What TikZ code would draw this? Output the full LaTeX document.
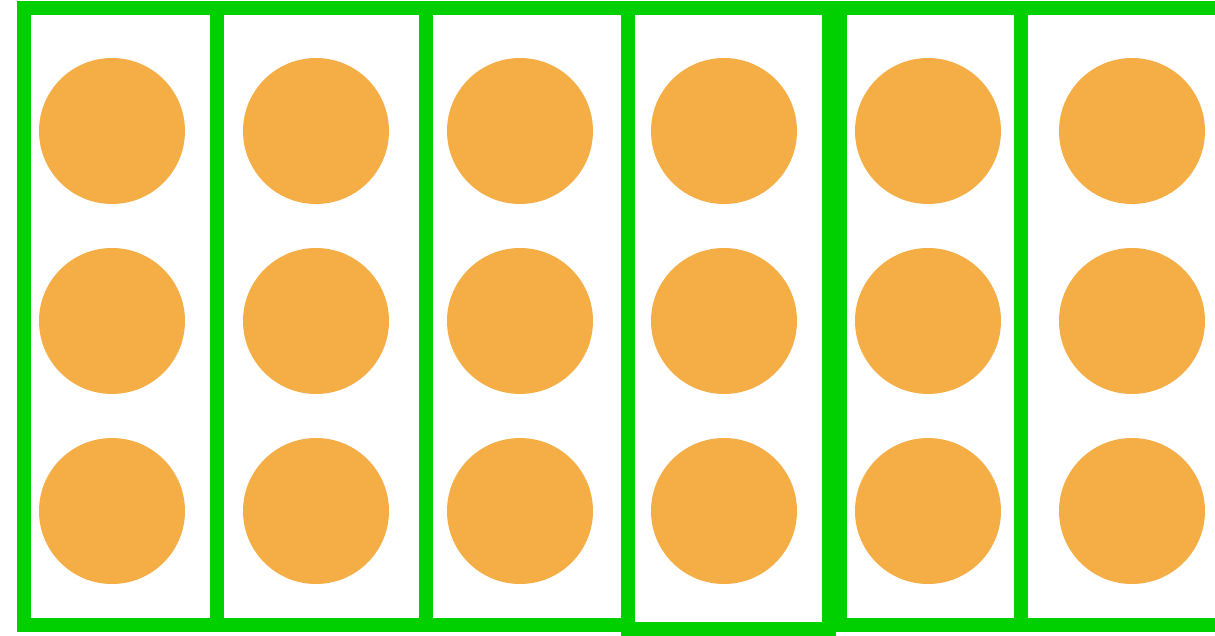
\documentclass[tikz,border=0pt]{standalone}
\usepackage{tikz}
\usetikzlibrary{positioning}
\definecolor{framegreen}{RGB}{0,208,0}
\definecolor{dotorange}{RGB}{245,173,69}
\tikzset{column/.style={draw=framegreen, line width=0.29cm, fill=white}, dot/.style={circle, fill=dotorange, inner sep=0pt, minimum size=2.92cm}}

\begin{document}
\begin{tikzpicture}[x=0.02cm, y=-0.02cm]
\useasboundingbox (0,0) rectangle (1215,636);
\fill[white] (0,0) rectangle (1215,636);
\draw[column] (24,8) rectangle (217,625);
\draw[column] (217,8) rectangle (426,625);
\draw[column] (426,8) rectangle (628,625);
\draw[column] (628,8) rectangle (829,629);
\draw[column] (840,8) rectangle (1021,625);
\draw[column] (1021,8) rectangle (1240,625);
\foreach \i/\x in {1/112,2/316,3/520,4/724,5/928,6/1132} {\foreach \j/\y in {1/131,2/321,3/511} {\node[dot] (d\i\j) at (\x,\y) {};}}
\end{tikzpicture}
\end{document}
